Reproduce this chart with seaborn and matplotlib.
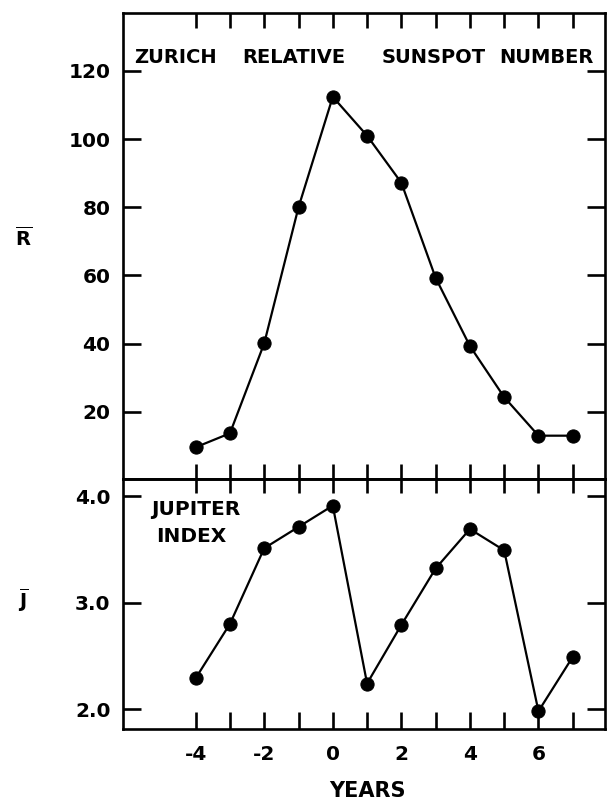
import numpy as np
import pandas as pd
import matplotlib
matplotlib.use("Agg")
import matplotlib.pyplot as plt
import seaborn as sns
from matplotlib.ticker import FixedLocator, FuncFormatter

# ---- data ----
years = [-4, -3, -2, -1, 0, 1, 2, 3, 4, 5, 6, 7]
sunspot_R = [9.6, 13.7, 40.1, 80.0, 112.4, 101.0, 87.2, 59.3, 39.3, 24.3, 13.0, 13.0]
jupiter_J = [2.29, 2.80, 3.51, 3.71, 3.91, 2.24, 2.79, 3.32, 3.69, 3.49, 1.98, 2.49]
r_ticks = [20, 40, 60, 80, 100, 120]
j_ticks = [2.0, 3.0, 4.0]
x_label_ticks = [-4, -2, 0, 2, 4, 6]
title_words = ["ZURICH", "RELATIVE", "SUNSPOT", "NUMBER"]

df = pd.DataFrame({"year": years, "R": sunspot_R, "J": jupiter_J})

sns.set_style("ticks")
plt.rcParams["font.family"] = ["DejaVu Sans"]
plt.rcParams["font.weight"] = "bold"
plt.rcParams["mathtext.fontset"] = "dejavusans"
plt.rcParams["axes.unicode_minus"] = False
for k in ["text.color", "axes.labelcolor", "xtick.color", "ytick.color",
          "axes.edgecolor"]:
    plt.rcParams[k] = "black"

fig = plt.figure(figsize=(6.08, 8.01), dpi=100)
left, right = 0.2023, 0.995
top, mid, bot = 0.9834, 0.4016, 0.0895
ax1 = fig.add_axes([left, mid, right - left, top - mid])
ax2 = fig.add_axes([left, bot, right - left, mid - bot], sharex=ax1)

lw_spine = 1.9
line_kw = dict(color="black", linewidth=1.6, marker="o", markersize=9.5,
               markeredgecolor="black", markerfacecolor="black")

sns.lineplot(data=df, x="year", y="R", ax=ax1, **line_kw)
sns.lineplot(data=df, x="year", y="J", ax=ax2, **line_kw)

ax1.set_xlim(-6.12, 7.94)
ax1.set_ylim(0.2, 136.9)
ax2.set_ylim(1.81, 4.157)

for ax in (ax1, ax2):
    for s in ax.spines.values():
        s.set_visible(True)
        s.set_linewidth(lw_spine)
        s.set_color("black")
    ax.set_xlabel("")
    ax.set_ylabel("")
    ax.set_facecolor("white")

# top panel x ticks: top (down) and bottom (up from divider)
ax1.xaxis.set_major_locator(FixedLocator(years))
ax1.xaxis.set_minor_locator(FixedLocator([0]))
ax1.tick_params(axis="x", which="major", direction="in", top=True, bottom=True,
                length=11, width=1.9, labelbottom=False, labeltop=False)
ax1.tick_params(axis="x", which="minor", direction="in", top=True, bottom=True,
                length=22, width=1.9)

# top panel y ticks
ax1.yaxis.set_major_locator(FixedLocator(r_ticks))
ax1.tick_params(axis="y", which="major", direction="in", left=True, right=True,
                length=13, width=1.9, labelsize=14.5, pad=9)
ax1.yaxis.set_major_formatter(FuncFormatter(lambda v, p: f"{int(v)}"))

# bottom panel
ax2.xaxis.set_major_locator(FixedLocator(years))
ax2.xaxis.set_minor_locator(FixedLocator([0]))
ax2.tick_params(axis="x", which="major", direction="in", top=False, bottom=True,
                length=12, width=1.9, labelsize=14.5, pad=11)
ax2.tick_params(axis="x", which="minor", direction="in", top=False, bottom=True,
                length=22, width=1.9)
ax2.xaxis.set_major_formatter(
    FuncFormatter(lambda v, p: f"{int(round(v))}" if int(round(v)) in x_label_ticks else ""))

sec = ax2.secondary_xaxis("top")
sec.xaxis.set_major_locator(FixedLocator(years))
sec.xaxis.set_minor_locator(FixedLocator([0]))
sec.tick_params(axis="x", which="major", direction="in", length=10, width=1.9,
                labeltop=False, color="black")
sec.tick_params(axis="x", which="minor", direction="in", length=16, width=1.9,
                color="black")
sec.spines["top"].set_linewidth(lw_spine)

ax2.yaxis.set_major_locator(FixedLocator(j_ticks))
ax2.tick_params(axis="y", which="major", direction="in", left=True, right=True,
                length=13, width=1.9, labelsize=14.5, pad=9)
ax2.yaxis.set_major_formatter(FuncFormatter(lambda v, p: f"{v:.1f}"))

for lab in ax1.get_yticklabels() + ax2.get_yticklabels() + ax2.get_xticklabels():
    lab.set_fontweight("bold")
    lab.set_color("black")

# title words inside top panel
word_x = [0.023, 0.247, 0.537, 0.780]
for w, xf in zip(title_words, word_x):
    ax1.text(xf, 0.906, w, transform=ax1.transAxes, ha="left", va="center",
             fontsize=14, fontweight="bold", color="black")

ax2.text(0.151, 0.881, "JUPITER", transform=ax2.transAxes, ha="center",
         va="center", fontsize=14.5, fontweight="bold", color="black")
ax2.text(0.141, 0.773, "INDEX", transform=ax2.transAxes, ha="center",
         va="center", fontsize=14.5, fontweight="bold", color="black")

fig.text(0.038, 0.703, r"$\overline{\mathbf{R}}$", ha="center", va="center",
         fontsize=14, color="black")
fig.text(0.038, 0.251, r"$\overline{\mathbf{J}}$", ha="center", va="center",
         fontsize=14, color="black")
fig.text(0.604, 0.012, "YEARS", ha="center", va="center", fontsize=15,
         fontweight="bold", color="black")

fig.savefig("out.png", dpi=100, facecolor="white")
